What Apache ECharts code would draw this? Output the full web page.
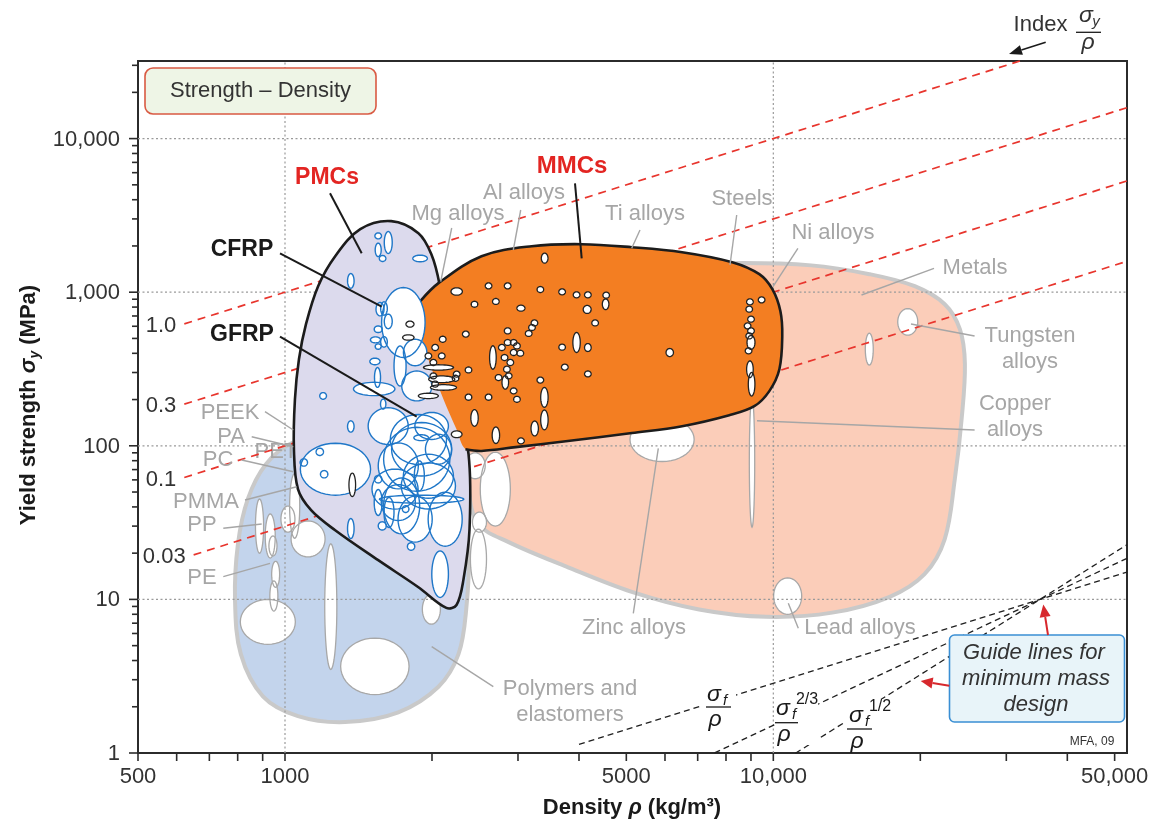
<!DOCTYPE html>
<html lang="en">
<head>
<meta charset="utf-8">
<title>Strength – Density</title>
<script src="https://cdn.jsdelivr.net/npm/echarts@6.0.0/dist/echarts.min.js"></script>
<style>
  html, body { margin: 0; padding: 0; background: #ffffff; }
  #chart { width: 1154px; height: 824px; }
</style>
</head>
<body>
<div id="chart"></div>
<script>
// ---- axes ------------------------------------------------------------------
const DENSITY_MIN = 500, DENSITY_MAX = 53000;     // kg/m3
const STRENGTH_MIN = 1, STRENGTH_MAX = 32000;     // MPa

const densityTicks = [500, 1000, 5000, 10000, 50000];
const densityTickLabels = ['500', '1000', '5000', '10,000', '50,000'];
const densityMinorTicks = [600, 700, 800, 900, 2000, 3000, 4000, 6000, 7000, 8000, 9000, 20000, 30000, 40000];
const strengthTicks = [1, 10, 100, 1000, 10000];
const strengthTickLabels = ['1', '10', '100', '1,000', '10,000'];
const strengthMinorTicks = [2, 3, 4, 5, 6, 7, 8, 9, 20, 30, 40, 50, 60, 70, 80, 90,
  200, 300, 400, 500, 600, 700, 800, 900, 2000, 3000, 4000, 5000, 6000, 7000, 8000, 9000, 20000, 30000];
const densityGrid = [1000, 10000];
const strengthGrid = [10, 100, 1000, 10000];

// ---- material-family envelopes: [density, yield strength] ------------------
const polymerEnvelope = [[790, 10], [801, 22.9], [839, 44.9], [914, 75.9], [1038, 105], [1285, 119], [1876, 98],
  [2266, 52.2], [2376, 21.2], [2350, 8.6], [2266, 4.4], [2062, 2.7], [1706, 1.84], [1328, 1.59], [1063, 1.74],
  [901, 2.34], [812, 4.4]];
const metalEnvelope = [[2376, 110], [2490, 900], [4392, 1455], [8160, 1545], [11960, 1495], [15740, 1310],
  [19480, 1094], [22440, 835], [24100, 574], [24680, 340], [24300, 149], [23530, 60.6], [22440, 24.7],
  [20400, 14.6], [17310, 10.4], [13200, 8.2], [9670, 7.7], [7047, 8.6], [5130, 11.2], [3760, 16.4],
  [2871, 23.6], [2490, 30.9], [2376, 52.2]];
const pmcEnvelope = [[1650, 2900], [1876, 2423], [1994, 1768], [2072, 1127], [2131, 574], [2235, 201],
  [2376, 88.2], [2387, 28.6], [2320, 13.5], [2245, 9.2], [2140, 8.8], [1876, 12.0], [1552, 18.0], [1267, 28.2],
  [1131, 38.1], [1063, 52.2], [1043, 95], [1048, 201], [1068, 366], [1104, 619], [1169, 1094], [1267, 1716],
  [1426, 2572]];
// first 22 points form the visible outline, the rest close the fill under the PMC bubbles
const mmcEnvelope = [[1893, 874], [2062, 1145], [2526, 1716], [3200, 1993], [4054, 2054], [5134, 1963],
  [6504, 1821], [8237, 1568], [9361, 1310], [9954, 1046], [10340, 752], [10430, 517], [10290, 315], [9813, 227],
  [9142, 181], [8123, 158], [6504, 134], [5134, 121], [3758, 107], [2967, 98], [2526, 92.6], [2342, 95],
  [2245, 128], [2111, 201], [1966, 366], [1893, 574]];
const MMC_OUTLINE_POINTS = 22;

// ---- individual grades: [density min, density max, strength min, strength max]
const polymerGrades = [
  [810, 1050, 5.1, 10], [1300, 1795, 2.4, 5.6], [1206, 1277, 3.5, 23], [870, 904, 20, 45], [911, 955, 18.6, 36],
  [927, 963, 19.2, 25.9], [939, 975, 12, 17.7], [931, 967, 8.4, 13.2], [1022, 1072, 25, 66], [981, 1048, 27.4, 40.5],
  [1029, 1208, 18.9, 32.4], [1911, 2081, 6.9, 10.8], [2420, 2586, 27.4, 37], [2397, 2586, 11.7, 28.7]];
const metalGrades = [
  [2511, 2894, 30, 91], [2338, 2570, 61, 90], [5087, 6885, 79, 153], [8930, 9160, 29.5, 207],
  [10015, 11432, 8, 13.8], [17980, 19760, 525, 782], [15430, 16020, 335, 541]];
const pmcGrades = [
  [1528, 1576, 2223, 2432], [1597, 1658, 1787, 2484], [1530, 1574, 1706, 2085], [1560, 1609, 1585, 1734],
  [1827, 1957, 1578, 1742], [1343, 1385, 1062, 1322], [1577, 1936, 376, 1073], [1536, 1595, 701, 857],
  [1570, 1620, 708, 866], [1597, 1658, 578, 720], [1523, 1581, 546, 603], [1496, 1569, 468, 512],
  [1530, 1574, 425, 461], [1570, 1620, 439, 514], [1492, 1565, 337, 372], [1525, 1569, 240, 323],
  [1381, 1679, 212, 259], [1748, 1952, 332, 494], [1734, 1998, 196, 307], [1480, 1788, 102, 177],
  [1653, 2195, 63.6, 141.8], [1552, 1875, 52.4, 104.5], [1178, 1216, 201, 222], [1343, 1385, 122.7, 145.5],
  [1569, 1609, 173.5, 201.5], [1672, 1770, 245, 447], [1836, 1967, 108, 118], [1075, 1497, 47.7, 104],
  [1158, 1199, 86.4, 96.5], [1074, 1112, 73.7, 82.3], [1182, 1224, 61.8, 69], [1343, 1385, 24.9, 33.6],
  [1592, 2176, 50.6, 132], [1592, 1887, 26.7, 61.8], [1964, 2306, 22.2, 49.9], [1704, 2002, 23.6, 47],
  [1561, 2324, 42.3, 47.7], [1840, 1929, 50.9, 79.8], [1523, 1581, 35.2, 51.9], [1595, 1672, 29.4, 46.1],
  [1525, 1579, 57.3, 64.1], [1552, 1612, 28.3, 32], [1739, 1794, 36.8, 40.7], [1781, 1844, 20.9, 23.4],
  [1998, 2161, 10.3, 20.7], [1574, 1849, 32.6, 55.9], [1730, 2234, 38.8, 77.4], [1939, 2193, 75.9, 119],
  [1845, 2161, 110, 165], [1507, 1873, 38.7, 70.5], [1747, 2213, 45.6, 88.2], [1643, 2142, 75.6, 160]];
const mmcGrades = [
  [3349, 3456, 1545, 1795], [2187, 2308, 956, 1068], [2571, 2652, 1051, 1150], [2813, 2902, 1051, 1150],
  [3282, 3386, 995, 1089], [3637, 3752, 961, 1051], [3893, 4016, 919, 1005], [4106, 4236, 919, 1005],
  [4477, 4618, 914, 1000], [4465, 4606, 771, 904], [2406, 2482, 798, 873], [2661, 2745, 832, 910],
  [2985, 3100, 752, 823], [4080, 4236, 727, 820], [4249, 4384, 603, 660], [3192, 3293, 603, 660],
  [3155, 3255, 563, 616], [3106, 3205, 515, 563], [2071, 2137, 472, 517], [2309, 2382, 510, 558],
  [3886, 4024, 405, 547], [3637, 3752, 419, 459], [4106, 4236, 411, 463], [6030, 6244, 381, 430],
  [3683, 3800, 311, 340], [4106, 4236, 281, 307], [2339, 2413, 298, 326], [2624, 2707, 315, 448],
  [2813, 2902, 535, 586], [2813, 2902, 450, 492], [2894, 2985, 450, 492], [2939, 3032, 427, 468],
  [2737, 2824, 417, 457], [2894, 2985, 387, 424], [2986, 3081, 383, 419], [2772, 2860, 359, 393],
  [2849, 2939, 333, 365], [2803, 2892, 301, 330], [2695, 2780, 266, 291], [2827, 2916, 273, 298],
  [2782, 2870, 234, 286], [2894, 2985, 218, 238], [2939, 3032, 192, 210], [2339, 2413, 198, 217],
  [2571, 2652, 198, 217], [3282, 3386, 256, 280], [3339, 3458, 178, 240], [3339, 3458, 127, 171],
  [3190, 3303, 116, 145], [2402, 2487, 134, 172], [2656, 2751, 103.5, 132.7], [2191, 2304, 113, 125],
  [2995, 3090, 103, 112.5],
  [8817, 9096, 827, 905], [9316, 9611, 852, 932], [8788, 9066, 741, 811], [8862, 9142, 638, 698],
  [8720, 8996, 577, 631], [8862, 9142, 535, 586], [8788, 9066, 496, 543], [8833, 9172, 424, 523],
  [8760, 9038, 397, 434], [8817, 9096, 278, 357], [8887, 9169, 211, 300],
  [1921, 2214, 311, 337], [1969, 2227, 258, 285], [1985, 2245, 230, 250], [1875, 2061, 203, 220],
  [1769, 1837, 592, 648], [1741, 1838, 487, 528], [2200, 2270, 263, 288], [1982, 2045, 273, 298],
  [1999, 2062, 417, 457], [2062, 2127, 368, 402], [1936, 1997, 368, 402], [1982, 2045, 333, 365],
  [2212, 2282, 280, 306], [1999, 2062, 241, 264], [1352, 1395, 46.7, 66.4]];

// ---- performance index lines sigma_y / rho = C -----------------------------
const indexValues = [1.0, 0.3, 0.1, 0.03];
const indexLabels = ['1.0', '0.3', '0.1', '0.03'];
const indexStartDensity = [622, 622, 622, 650];

// ---- minimum-mass guide lines: sigma proportional to rho^n -----------------
const guideExponents = [1, 1.5, 2];            // sigma/rho, sigma^(2/3)/rho, sigma^(1/2)/rho
const guideStartDensity = [4000, 7580, 11100];
const guideMeet = [35170, 10];                 // density, strength where the three lines cross

// ---- drawing helpers -------------------------------------------------------
const FONT = '"Liberation Sans", Arial, Helvetica, sans-serif';

function ellipsePoints(cx, cy, rx, ry) {
  const pts = [];
  const n = 44;
  for (let i = 0; i < n; i++) {
    const a = (i / n) * Math.PI * 2;
    pts.push([cx + rx * Math.cos(a), cy + ry * Math.sin(a)]);
  }
  return pts;
}

function envelopeSeries(name, pts, fill, stroke, lineWidth, z) {
  return {
    type: 'custom', name, coordinateSystem: 'cartesian2d', z, silent: true, animation: false,
    data: [[1000, 100]],
    renderItem: (params, api) => ({
      type: 'polygon',
      shape: { points: pts.map(p => api.coord(p)), smooth: 0.35 },
      style: { fill, stroke: stroke || null, lineWidth: lineWidth || 0 }
    })
  };
}

function outlineSeries(name, pts, stroke, lineWidth, z) {
  return {
    type: 'custom', name, coordinateSystem: 'cartesian2d', z, silent: true, animation: false,
    data: [[1000, 100]],
    renderItem: (params, api) => ({
      type: 'polyline',
      shape: { points: pts.map(p => api.coord(p)), smooth: 0.35 },
      style: { fill: null, stroke, lineWidth }
    })
  };
}

// each grade family is drawn as white fills first, then all outlines on top
function gradeSeries(name, list, stroke, lineWidth, z) {
  const size = g => Math.log(g[1] / g[0]) * Math.log(g[3] / g[2]);
  const sorted = list.slice().sort((a, b) => size(b) - size(a));
  const make = (suffix, outline) => ({
    type: 'custom', name: name + suffix, coordinateSystem: 'cartesian2d', z, silent: true, animation: false,
    data: sorted,
    encode: { x: [0, 1], y: [2, 3] },
    renderItem: (params, api) => {
      const p1 = api.coord([api.value(0), api.value(2)]);
      const p2 = api.coord([api.value(1), api.value(3)]);
      const cx = (p1[0] + p2[0]) / 2, cy = (p1[1] + p2[1]) / 2;
      const rx = Math.abs(p2[0] - p1[0]) / 2, ry = Math.abs(p2[1] - p1[1]) / 2;
      return {
        type: 'polygon',
        shape: { points: ellipsePoints(cx, cy, rx, ry) },
        style: outline ? { fill: null, stroke, lineWidth } : { fill: '#ffffff', stroke: null }
      };
    }
  });
  return [make(' fill', false), make(' outline', true)];
}

// ---- series ----------------------------------------------------------------
const series = [];

series.push(envelopeSeries('Polymers and elastomers', polymerEnvelope, '#c3d4ec', '#c9c9c9', 4, 1));
series.push(envelopeSeries('Metals', metalEnvelope, '#fbcdb9', '#c9c9c9', 4, 1));
series.push(...gradeSeries('Polymer and metal grades', polymerGrades.concat(metalGrades), '#a8a8a8', 1.3, 1));

// dotted grid
series.push({
  type: 'custom', name: 'grid', coordinateSystem: 'cartesian2d', z: 2, silent: true, animation: false,
  data: densityGrid.map(v => [v, STRENGTH_MIN, 0]).concat(strengthGrid.map(v => [DENSITY_MIN, v, 1])),
  renderItem: (params, api) => {
    const vertical = api.value(2) === 0;
    const a = vertical ? api.coord([api.value(0), STRENGTH_MIN]) : api.coord([DENSITY_MIN, api.value(1)]);
    const b = vertical ? api.coord([api.value(0), STRENGTH_MAX]) : api.coord([DENSITY_MAX, api.value(1)]);
    return {
      type: 'line', shape: { x1: a[0], y1: a[1], x2: b[0], y2: b[1] },
      style: { stroke: '#9a9a9a', lineWidth: 1.2, lineDash: [2, 2.5] }
    };
  }
});

// red index lines with their values
series.push({
  type: 'custom', name: 'Index', coordinateSystem: 'cartesian2d', z: 2, silent: true, animation: false,
  data: indexValues.map((c, i) => [indexStartDensity[i], c * indexStartDensity[i], c]),
  renderItem: (params, api) => {
    const c = api.value(2), rho0 = api.value(0);
    const rhoEnd = Math.min(DENSITY_MAX, STRENGTH_MAX / c);
    const a = api.coord([rho0, c * rho0]);
    const b = api.coord([rhoEnd, c * rhoEnd]);
    return {
      type: 'group', children: [
        { type: 'line', shape: { x1: a[0], y1: a[1], x2: b[0], y2: b[1] },
          style: { stroke: '#e8352d', lineWidth: 1.7, lineDash: [8, 6] } },
        { type: 'text', x: a[0] - 8, y: a[1] + 2,
          style: { text: indexLabels[params.dataIndex], fill: '#333', font: '22px ' + FONT,
                   align: 'right', verticalAlign: 'middle' } }
      ]
    };
  }
});

series.push(envelopeSeries('PMCs', pmcEnvelope, '#dcdaed', '#1c1c1c', 2.6, 3));
series.push(envelopeSeries('MMCs', mmcEnvelope, '#f37e22', null, 0, 3));
series.push(outlineSeries('MMCs outline', mmcEnvelope.slice(0, MMC_OUTLINE_POINTS), '#1c1c1c', 2.6, 3));
series.push(...gradeSeries('PMC grades', pmcGrades, '#1f77c8', 1.4, 3));
series.push(...gradeSeries('MMC grades', mmcGrades, '#222222', 1.3, 3));

// minimum-mass guide lines
series.push({
  type: 'custom', name: 'Guide lines', coordinateSystem: 'cartesian2d', z: 3, silent: true, animation: false,
  data: guideExponents.map((n, i) => [guideStartDensity[i], guideMeet[1] * Math.pow(guideStartDensity[i] / guideMeet[0], n), n]),
  renderItem: (params, api) => {
    const n = api.value(2);
    const a = api.coord([api.value(0), api.value(1)]);
    const b = api.coord([DENSITY_MAX, guideMeet[1] * Math.pow(DENSITY_MAX / guideMeet[0], n)]);
    return {
      type: 'line', shape: { x1: a[0], y1: a[1], x2: b[0], y2: b[1] },
      style: { stroke: '#1f1f1f', lineWidth: 1.3, lineDash: [6, 4] }
    };
  }
});

// axis ticks and tick labels
series.push({
  type: 'custom', name: 'density ticks', coordinateSystem: 'cartesian2d', z: 5, silent: true, animation: false, clip: false,
  data: densityTicks.map((v, i) => [v, STRENGTH_MIN, i]).concat(densityMinorTicks.map(v => [v, STRENGTH_MIN, -1])),
  renderItem: (params, api) => {
    const p = api.coord([api.value(0), STRENGTH_MIN]);
    const idx = api.value(2);
    const children = [{ type: 'line', shape: { x1: p[0], y1: p[1], x2: p[0], y2: p[1] + 8 },
                        style: { stroke: '#2b2b2b', lineWidth: 1.6 } }];
    if (idx >= 0) {
      children.push({ type: 'text', x: p[0], y: p[1] + 24,
        style: { text: densityTickLabels[idx], fill: '#333', font: '22px ' + FONT, align: 'center', verticalAlign: 'middle' } });
    }
    return { type: 'group', children };
  }
});
series.push({
  type: 'custom', name: 'strength ticks', coordinateSystem: 'cartesian2d', z: 5, silent: true, animation: false, clip: false,
  data: strengthTicks.map((v, i) => [DENSITY_MIN, v, i]).concat(strengthMinorTicks.map(v => [DENSITY_MIN, v, -1])),
  renderItem: (params, api) => {
    const p = api.coord([DENSITY_MIN, api.value(1)]);
    const idx = api.value(2);
    const len = idx >= 0 ? 9 : 6;
    const children = [{ type: 'line', shape: { x1: p[0] - len, y1: p[1], x2: p[0], y2: p[1] },
                        style: { stroke: '#2b2b2b', lineWidth: 1.6 } }];
    if (idx >= 0) {
      children.push({ type: 'text', x: p[0] - 18, y: p[1] + 1,
        style: { text: strengthTickLabels[idx], fill: '#333', font: '22px ' + FONT, align: 'right', verticalAlign: 'middle' } });
    }
    return { type: 'group', children };
  }
});

// ---- annotations -----------------------------------------------------------
const G = [];
function txt(x, y, text, o) {
  o = o || {};
  G.push({
    type: 'text', z: o.z != null ? o.z : 60, x, y, silent: true, rotation: o.rotation || 0,
    style: Object.assign({
      text, fill: o.fill || '#333', font: o.font || ('22px ' + FONT),
      align: o.align || 'center', verticalAlign: o.valign || 'middle', lineHeight: o.lineHeight || 26
    }, o.style || {})
  });
}
function seg(x1, y1, x2, y2, stroke, w, z) {
  G.push({ type: 'line', z: z != null ? z : 55, silent: true, shape: { x1, y1, x2, y2 }, style: { stroke, lineWidth: w } });
}
function tri(points, fill, z) {
  G.push({ type: 'polygon', z: z != null ? z : 55, silent: true, shape: { points }, style: { fill } });
}
function box(x, y, w, h, r, fill, stroke, lw, z) {
  G.push({ type: 'rect', z: z != null ? z : 50, silent: true, shape: { x, y, width: w, height: h, r },
           style: { fill, stroke: stroke || null, lineWidth: lw || 0 } });
}

const GRAY = '#a6a6a6';
const RED = '#e32522';
const DARK = '#1a1a1a';

// chart title box
box(145, 68, 231, 46, 8, '#eef5e6', '#d95a43', 1.6);
txt(260.5, 91, 'Strength – Density');

// family and grade callouts
const grayCallouts = [
  ['Mg alloys', 458, 214, [451.7, 228, 440.7, 281.7]],
  ['Al alloys', 524, 193, [520.7, 210, 513.3, 250]],
  ['Ti alloys', 645, 214, [640, 230, 631.7, 248.3]],
  ['Steels', 742, 199, [736.7, 215, 730, 265]],
  ['Ni alloys', 833, 233, [797.9, 248.3, 773, 286.7]],
  ['Metals', 975, 268, [934, 268.3, 861.5, 295]],
  ['Tungsten\nalloys', 1030, 349, [974.6, 336, 911, 324]],
  ['Copper\nalloys', 1015, 416.5, [974.6, 430, 757, 420.7]],
  ['Zinc alloys', 634, 628, [633.3, 613.3, 658.3, 448.3]],
  ['Lead alloys', 860, 628, [798.3, 628.3, 788.3, 603.3]],
  ['Polymers and\nelastomers', 570, 702, [493.3, 686.7, 431.7, 646.7]],
  ['PEEK', 230, 413, [265, 411.7, 293.3, 430]],
  ['PA', 231, 437, [251.7, 436.7, 293.3, 446.7]],
  ['PC', 218, 460, [241.7, 460, 293.3, 471.7]],
  ['PMMA', 206, 502, [245, 500, 296.7, 486.7]],
  ['PP', 202, 525, [223.3, 528.3, 261.7, 524]],
  ['PE', 202, 578, [223.3, 576.7, 270, 563.3]]
];
grayCallouts.forEach(c => {
  txt(c[1], c[2], c[0], { fill: GRAY });
  seg(c[3][0], c[3][1], c[3][2], c[3][3], GRAY, 1.4);
});
txt(276, 452, 'PET', { fill: GRAY, z: 2 });   // sits under the PMC envelope

txt(327, 178, 'PMCs', { fill: RED, font: 'bold 23px ' + FONT });
seg(330, 193.3, 361.7, 253.3, DARK, 2);
txt(572, 166, 'MMCs', { fill: RED, font: 'bold 24px ' + FONT });
seg(575, 183.3, 581.7, 258.3, DARK, 2);
txt(242, 250, 'CFRP', { fill: DARK, font: 'bold 23px ' + FONT });
seg(280, 253.3, 381.7, 306.7, DARK, 2);
txt(242, 335, 'GFRP', { fill: DARK, font: 'bold 23px ' + FONT });
seg(280, 336.7, 416.7, 416.7, DARK, 2);

// "Index sigma_y / rho" with arrow
txt(1040.5, 25, 'Index');
txt(1086, 16, 'σ', { font: 'italic 23px ' + FONT });
txt(1096, 22, 'y', { font: 'italic 15px ' + FONT });
seg(1076, 32.3, 1101, 32.3, DARK, 1.3);
txt(1088, 43, 'ρ', { font: 'italic 23px ' + FONT });
seg(1045.7, 42.3, 1021.4, 50, DARK, 1.6);
tri([[1009, 54], [1019.9, 45.3], [1022.9, 54.8]], DARK);

// guide line index labels (white backing breaks the dashed lines)
box(702, 688, 34, 44, 0, '#ffffff', null, 0, 56);
box(776, 697, 42, 48, 0, '#ffffff', null, 0, 56);
box(845, 699, 47, 51, 0, '#ffffff', null, 0, 56);
function fraction(sx, sy, sup, bx1, bx2, by, rx, ry) {
  txt(sx, sy, 'σ', { font: 'italic 23px ' + FONT, fill: DARK });
  txt(sx + 11, sy + 6, 'f', { font: 'italic 15px ' + FONT, fill: DARK });
  if (sup) txt(sx + 24, sy - 9, sup, { font: '16px ' + FONT, fill: DARK });
  seg(bx1, by, bx2, by, DARK, 1.3, 60);
  txt(rx, ry, 'ρ', { font: 'italic 23px ' + FONT, fill: DARK });
}
fraction(714, 695, null, 706, 731, 707, 715, 720);
fraction(783, 709, '2/3', 775, 798, 722.7, 784, 735);
fraction(856, 716, '1/2', 847, 872, 729, 857, 742);

// guide box with red arrows
box(949.5, 635, 175, 87, 5, '#e8f4f9', '#3a8fd4', 1.6);
txt(1034, 652.7, 'Guide lines for', { font: 'italic 22px ' + FONT });
txt(1036, 679.3, 'minimum mass', { font: 'italic 22px ' + FONT });
txt(1036, 704.5, 'design', { font: 'italic 22px ' + FONT });
seg(1048, 635, 1045.2, 617, '#d7282d', 2);
tri([[1043.3, 604.5], [1039.7, 617.7], [1050.6, 616]], '#d7282d');
seg(949.3, 685.7, 932.5, 683, '#d7282d', 2);
tri([[920.7, 681], [933.4, 677.5], [931.6, 688.4]], '#d7282d');

txt(1092, 742, 'MFA, 09', { font: '12px ' + FONT });

// axis titles
txt(632, 808, '{a|Density }{b|ρ}{a| (kg/m³)}', {
  style: { rich: {
    a: { fontSize: 22, fontWeight: 'bold', fontFamily: FONT, fill: DARK },
    b: { fontSize: 22, fontWeight: 'bold', fontStyle: 'italic', fontFamily: FONT, fill: DARK } } }
});
txt(29, 405, '{a|Yield strength }{b|σ}{c|y}{a| (MPa)}', {
  rotation: Math.PI / 2,
  style: { rich: {
    a: { fontSize: 22, fontWeight: 'bold', fontFamily: FONT, fill: DARK, lineHeight: 26 },
    b: { fontSize: 22, fontWeight: 'bold', fontStyle: 'italic', fontFamily: FONT, fill: DARK, lineHeight: 26 },
    c: { fontSize: 14, fontWeight: 'bold', fontStyle: 'italic', fontFamily: FONT, fill: DARK, lineHeight: 26, verticalAlign: 'bottom' } } }
});

// ---- chart -----------------------------------------------------------------
const chart = echarts.init(document.getElementById('chart'));
chart.setOption({
  animation: false,
  backgroundColor: '#ffffff',
  grid: { show: true, left: 138, top: 61, right: 27, bottom: 71,
          borderColor: '#2b2b2b', borderWidth: 2, backgroundColor: '#ffffff' },
  xAxis: { type: 'log', logBase: 10, min: DENSITY_MIN, max: DENSITY_MAX,
           axisLine: { show: false }, axisTick: { show: false }, axisLabel: { show: false }, splitLine: { show: false } },
  yAxis: { type: 'log', logBase: 10, min: STRENGTH_MIN, max: STRENGTH_MAX,
           axisLine: { show: false }, axisTick: { show: false }, axisLabel: { show: false }, splitLine: { show: false } },
  series,
  graphic: { elements: G }
});
</script>
</body>
</html>
